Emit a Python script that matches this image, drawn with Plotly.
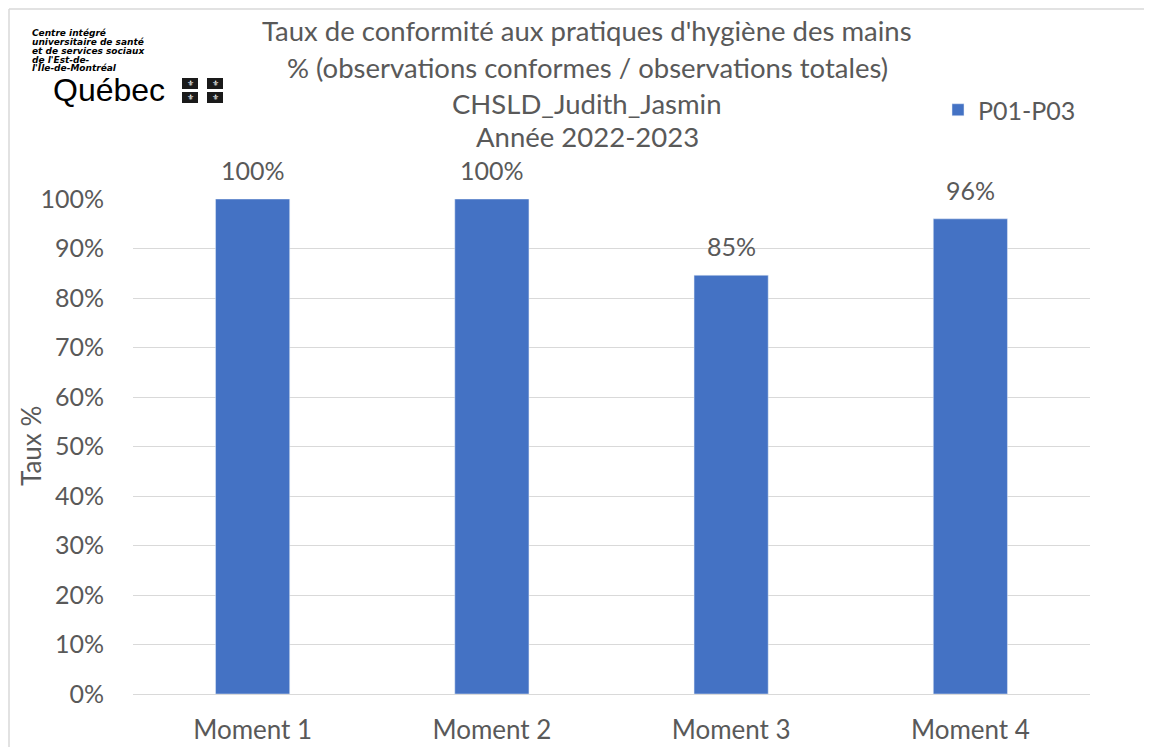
import plotly.graph_objects as go

categories = ["Moment 1", "Moment 2", "Moment 3", "Moment 4"]
values = [100, 100, 84.6, 96]
value_labels = ["100%", "100%", "85%", "96%"]
series_name = "P01-P03"
y_ticks = [0, 10, 20, 30, 40, 50, 60, 70, 80, 90, 100]
y_tick_labels = [f"{t}%" for t in y_ticks]
title_lines = [
    "Taux de conformité aux pratiques d'hygiène des mains",
    "% (observations conformes / observations totales)",
    "CHSLD_Judith_Jasmin",
    "Année 2022-2023",
]
logo_lines = ["Centre intégré", "universitaire de santé", "et de services sociaux",
              "de l'Est-de-", "l'Île-de-Montréal"]

FONT = "Lato"
GREY = "#595959"
OFF = 8  # page body margin
W, H = 1152 - OFF, 747 - OFF
# plot area in reference pixels
X0, X1, Y0, Y1 = 133, 1090, 199, 694
L, R, T, B = X0 - OFF, W - (X1 - OFF), Y0 - OFF, H - (Y1 - OFF)
PW, PH = X1 - X0, Y1 - Y0

def px(x):
    return (x - X0) / PW

def py(y):
    return (Y1 - y) / PH

fig = go.Figure()
fig.add_trace(go.Bar(
    x=categories, y=values, name=series_name,
    marker_color="#4472C4", width=0.31,
))

annotations = []
for c, v, t in zip(categories, values, value_labels):
    annotations.append(dict(x=c, y=v, xref="x", yref="y", text=t, showarrow=False,
                            yshift=29, font=dict(family=FONT, size=25, color=GREY)))

title_y = [30, 67, 103, 136]
for line, yy in zip(title_lines, title_y):
    annotations.append(dict(x=px(587), y=py(yy), xref="paper", yref="paper", text=line,
                            showarrow=False, xanchor="center", yanchor="middle",
                            font=dict(family=FONT, size=27.5, color=GREY)))

annotations.append(dict(x=px(31), y=py(446), xref="paper", yref="paper", text="Taux %",
                        textangle=-90, showarrow=False, xanchor="center", yanchor="middle",
                        font=dict(family=FONT, size=26, color=GREY)))

logo_y = [33.5, 42.25, 51, 59.75, 68.5]
for line, yy in zip(logo_lines, logo_y):
    annotations.append(dict(x=px(31), y=py(yy), xref="paper", yref="paper",
                            text=f"<b><i>{line}</i></b>", showarrow=False,
                            xanchor="left", yanchor="middle", borderpad=0,
                            font=dict(family="DejaVu Sans", size=9, color="black")))
annotations.append(dict(x=px(51), y=py(90), xref="paper", yref="paper", text="Québec",
                        showarrow=False, xanchor="left", yanchor="middle",
                        font=dict(family="Liberation Sans", size=32, color="black")))

shapes = []
for (x0, y0) in [(182, 78), (207, 78), (182, 92), (207, 92)]:
    shapes.append(dict(type="rect", xref="paper", yref="paper",
                       x0=px(x0), x1=px(x0 + 16), y0=py(y0), y1=py(y0 + 11),
                       fillcolor="#1a1a1a", line=dict(width=0), layer="above"))
    annotations.append(dict(x=px(x0 + 8), y=py(y0 + 5.5), xref="paper", yref="paper",
                            text="⚜", showarrow=False, xanchor="center", yanchor="middle",
                            font=dict(family="DejaVu Sans", size=8, color="white")))

# chart border (as close to the reference edge as the page allows)
shapes.append(dict(type="line", xref="paper", yref="paper", x0=px(9), x1=px(9),
                   y0=py(9), y1=py(760), line=dict(color="#D9D9D9", width=1.5)))
shapes.append(dict(type="line", xref="paper", yref="paper", x0=px(9), x1=px(1160),
                   y0=py(9), y1=py(9), line=dict(color="#D9D9D9", width=1.5)))

fig.update_layout(
    width=W, height=H,
    margin=dict(l=L, r=R, t=T, b=B, autoexpand=False),
    paper_bgcolor="white", plot_bgcolor="white",
    font=dict(family=FONT, color=GREY),
    showlegend=True,
    legend=dict(x=px(938), y=py(110), xanchor="left", yanchor="middle",
                font=dict(family=FONT, size=25, color=GREY), itemwidth=30,
                bgcolor="rgba(0,0,0,0)"),
    annotations=annotations,
    shapes=shapes,
    bargap=0.69,
)
fig.update_yaxes(range=[0, 100], tickvals=y_ticks, ticktext=y_tick_labels,
                 showgrid=True, gridcolor="#D9D9D9", gridwidth=1.3, zeroline=False,
                 showline=False, ticks="", ticklabelstandoff=28,
                 tickfont=dict(family=FONT, size=25, color=GREY))
fig.update_xaxes(showline=True, linecolor="#D9D9D9", linewidth=1.3, ticks="",
                 ticklabelstandoff=13, tickfont=dict(family=FONT, size=26, color=GREY))

fig.write_html("out.html")
